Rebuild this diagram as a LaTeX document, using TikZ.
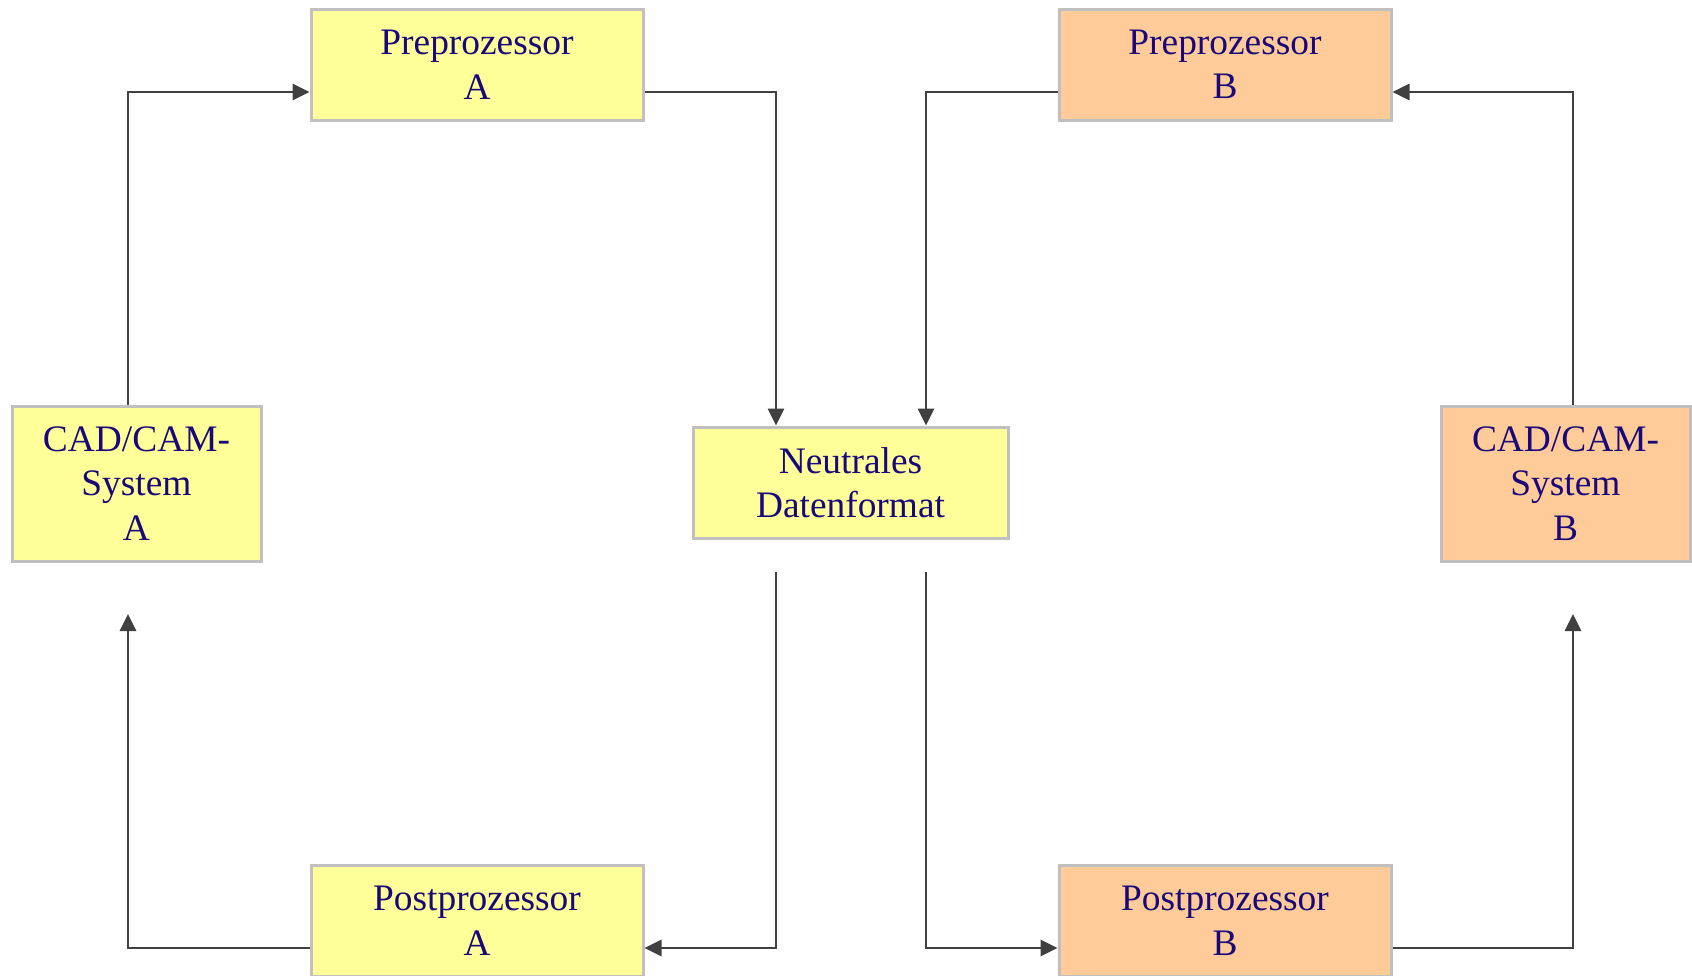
\documentclass[tikz,border=0pt]{standalone}
\usepackage{fontspec}
\setmainfont{Liberation Serif}
\usetikzlibrary{arrows.meta}
\definecolor{boxyellow}{RGB}{255,255,153}
\definecolor{boxorange}{RGB}{255,204,153}
\definecolor{boxline}{RGB}{192,192,192}
\definecolor{labelblue}{RGB}{26,8,122}
\definecolor{flowgray}{RGB}{64,64,64}
\tikzset{
  procbox/.style={draw=boxline, line width=1.5pt, rectangle, align=center,
    inner sep=0pt, text=labelblue,
    font=\fontsize{18.7pt}{22.3pt}\selectfont},
  yelbox/.style={procbox, fill=boxyellow},
  orabox/.style={procbox, fill=boxorange},
  flow/.style={draw=flowgray, line width=1.4pt,
    -{Triangle[length=8.5pt,width=8pt]}}
}
\begin{document}
\begin{tikzpicture}[x=0.5pt, y=-0.5pt]
  \useasboundingbox (0,0) rectangle (1692,975);

  % processing stages
  \node[yelbox, minimum width=166pt, minimum height=55.5pt] (preA) at (477,64.5) {Preprozessor\\A};
  \node[orabox, minimum width=166pt, minimum height=55.5pt] (preB) at (1225,64.5) {Preprozessor\\B};
  \node[yelbox, minimum width=124.5pt, minimum height=77.5pt] (cadA) at (136.5,483.5) {CAD/CAM-\\System\\A};
  \node[orabox, minimum width=124.5pt, minimum height=77.5pt] (cadB) at (1565.5,483.5) {CAD/CAM-\\System\\B};
  \node[yelbox, minimum width=157.5pt, minimum height=55.5pt] (neut) at (850.5,482.5) {Neutrales\\Datenformat};
  \node[yelbox, minimum width=166pt, minimum height=55.5pt] (postA) at (477,920.5) {Postprozessor\\A};
  \node[orabox, minimum width=166pt, minimum height=55.5pt] (postB) at (1225,920.5) {Postprozessor\\B};

  % routing lanes
  \coordinate (laneA) at (128,0);
  \coordinate (laneN1) at (776,0);
  \coordinate (laneN2) at (926,0);
  \coordinate (laneB) at (1573,0);
  \coordinate (rowTop) at (0,92);
  \coordinate (rowBot) at (0,948);
  \coordinate (outN) at (0,572);
  \coordinate (inCad) at (0,614);

  % export paths into the neutral format
  \draw[flow] (cadA.north -| laneA) |- (preA.west |- rowTop);
  \draw[flow] (preA.east |- rowTop) -| (neut.north -| laneN1);
  \draw[flow] (preB.west |- rowTop) -| (neut.north -| laneN2);
  \draw[flow] (cadB.north -| laneB) |- (preB.east |- rowTop);

  % import paths out of the neutral format
  \draw[flow] (laneN1 |- outN) |- (postA.east |- rowBot);
  \draw[flow] (laneN2 |- outN) |- (postB.west |- rowBot);
  \draw[flow] (postA.west |- rowBot) -| (laneA |- inCad);
  \draw[flow] (postB.east |- rowBot) -| (laneB |- inCad);
\end{tikzpicture}
\end{document}
